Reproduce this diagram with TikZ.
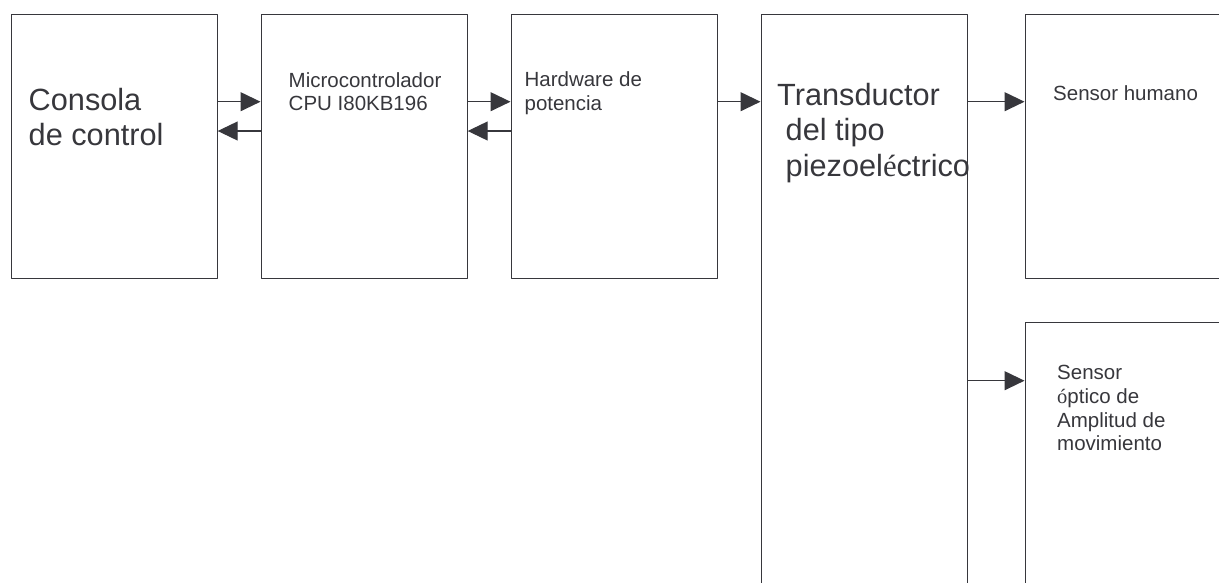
\documentclass[tikz,border=0pt]{standalone}
\usepackage{fontspec}
\setmainfont{Liberation Sans}
\newfontfamily\serifchar{Liberation Serif}
\usetikzlibrary{arrows.meta}
\definecolor{ink}{RGB}{55,55,60}
\begin{document}
\begin{tikzpicture}[
		x = 1pt,
		y = -1pt,
		line join = round,
		> = {Triangle[length=20pt,width=19pt]},
		blk/.style = {draw=ink, line width=1.2pt, rectangle, inner sep=0pt,
			anchor=north west, minimum width=206pt},
		txt/.style = {anchor=north west, inner sep=0pt, align=left, text=ink},
		big/.style = {font=\fontsize{30.7}{35.3}\selectfont},
		small/.style = {font=\fontsize{20.5}{23.7}\selectfont},
		]
\useasboundingbox	(0,0) rectangle (1219,582);
\clip			(0,0) rectangle (1219,582);
% bloques
\node[blk, minimum height=264pt]	(con) at (10.5,13.5)	{};
\node[blk, minimum height=264pt]	(mic) at (260.5,13.5)	{};
\node[blk, minimum height=264pt]	(pot) at (510.5,13.5)	{};
\node[blk, minimum height=600pt]	(tra) at (760.5,13.5)	{};
\node[blk, minimum height=264pt, minimum width=230pt]	(hum) at (1024.5,13.5)	{};
\node[blk, minimum height=300pt, minimum width=230pt]	(opt) at (1024.5,322)	{};
% textos
\node[txt, big]		(tcon) at (28.5,88)	{Consola\\de control};
\node[txt, small]	(tmic) at (288.5,72)	{Microcontrolador\\CPU I80KB196};
\node[txt, small]	(tpot) at (524.4,71.3)	{Hardware de\\potencia};
\node[txt, big]		(ttra) at (777,83)	{Transductor\\\ del tipo\\\ piezoel{\serifchar é}ctrico};
\node[txt, small]	(thum) at (1053,85.3)	{Sensor humano};
\node[txt, small]	(topt) at (1057,365.3)	{Sensor\\{\serifchar ó}ptico de\\Amplitud de\\movimiento};
% flechas
\draw[->, ink, line width=1.2pt]	(con.east |- 0,101.7) -- (mic.west |- 0,101.7);
\draw[->, ink, line width=1.2pt]	(mic.west |- 0,131) -- (con.east |- 0,131);
\draw[->, ink, line width=1.2pt]	(mic.east |- 0,101.7) -- (pot.west |- 0,101.7);
\draw[->, ink, line width=1.2pt]	(pot.west |- 0,131) -- (mic.east |- 0,131);
\draw[->, ink, line width=1.2pt]	(pot.east |- 0,101.7) -- (tra.west |- 0,101.7);
\draw[->, ink, line width=1.2pt]	(tra.east |- 0,101.7) -- (hum.west |- 0,101.7);
\draw[->, ink, line width=1.2pt]	(tra.east |- 0,380.7) -- (opt.west |- 0,380.7);
\end{tikzpicture}
\end{document}
